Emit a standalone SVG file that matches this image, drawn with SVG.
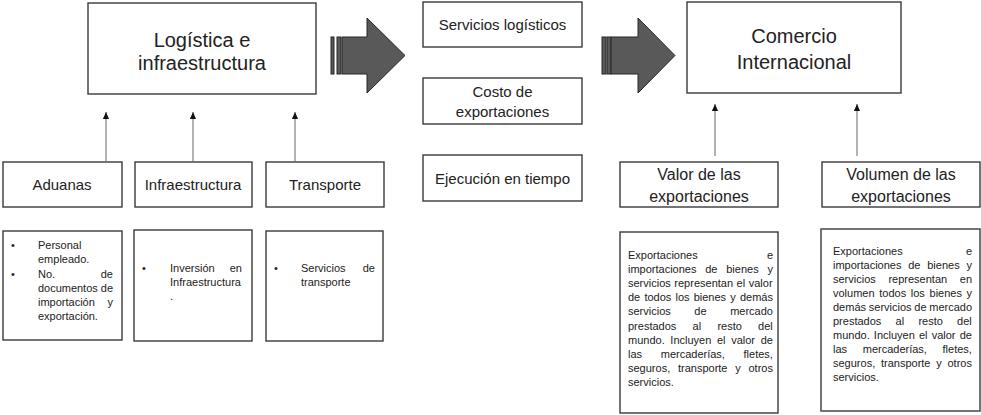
<svg xmlns="http://www.w3.org/2000/svg" width="981" height="415" viewBox="0 0 981 415">
<defs>
<style>
.box{fill:#fff;stroke:#3a3a3a;stroke-width:1.4}
.t{font-family:"Liberation Sans",Arial,sans-serif;fill:#222}
.big{font-size:20px;text-anchor:middle}
.mid{font-size:16px;text-anchor:middle}
.med{font-size:15px;text-anchor:middle}
.sm{font-size:11px}
.end{text-anchor:end}
.conn{stroke:#666;stroke-width:1;fill:none}
.blk{fill:#595959;stroke:#262626;stroke-width:1}
</style>
<marker id="ah" viewBox="0 0 8 8" refX="8" refY="4" markerWidth="7" markerHeight="7" markerUnits="userSpaceOnUse" orient="auto">
<path d="M0,0.5 L8,4 L0,7.5 z" fill="#111"/>
</marker>
</defs>
<rect width="981" height="415" fill="#fff"/>

<g id="logistica">
<rect class="box" x="88" y="3" width="228" height="91"/>
<text class="t big" x="202" y="47">Logística e</text>
<text class="t big" x="202" y="70">infraestructura</text>
</g>

<g id="aduanas">
<rect class="box" x="3" y="162" width="119" height="45"/>
<text class="t med" x="62" y="190">Aduanas</text>
</g>
<g id="infraestructura">
<rect class="box" x="135" y="162" width="117" height="45"/>
<text class="t med" x="193" y="190">Infraestructura</text>
</g>
<g id="transporte">
<rect class="box" x="266" y="162" width="118" height="45"/>
<text class="t med" x="325" y="190">Transporte</text>
</g>

<g id="aduanas-detalle">
<rect class="box" x="3" y="231" width="119" height="109"/>
<text class="t sm" x="11" y="249">•</text>
<text class="t sm" x="38" y="249">Personal</text>
<text class="t sm" x="38" y="263">empleado.</text>
<text class="t sm" x="11" y="278">•</text>
<text class="t sm" x="38" y="278">No.</text>
<text class="t sm end" x="113" y="278">de</text>
<text class="t sm" x="38" y="292" textLength="75" lengthAdjust="spacingAndGlyphs">documentos de</text>
<text class="t sm" x="38" y="306">importación</text>
<text class="t sm end" x="113" y="306">y</text>
<text class="t sm" x="38" y="320">exportación.</text>
</g>

<g id="infraestructura-detalle">
<rect class="box" x="134" y="230" width="118" height="111"/>
<text class="t sm" x="142" y="272">•</text>
<text class="t sm" x="170" y="272">Inversión</text>
<text class="t sm end" x="242" y="272">en</text>
<text class="t sm" x="170" y="286">Infraestructura</text>
<text class="t sm" x="170" y="300">.</text>
</g>

<g id="transporte-detalle">
<rect class="box" x="266" y="231" width="117" height="110"/>
<text class="t sm" x="274" y="272">•</text>
<text class="t sm" x="301" y="272">Servicios</text>
<text class="t sm end" x="375" y="272">de</text>
<text class="t sm" x="301" y="286">transporte</text>
</g>

<g id="servicios-logisticos">
<rect class="box" x="423" y="2" width="159" height="45"/>
<text class="t med" x="502.5" y="30">Servicios logísticos</text>
</g>
<g id="costo-exportaciones">
<rect class="box" x="423" y="78" width="159" height="46"/>
<text class="t med" x="502.5" y="97">Costo de</text>
<text class="t med" x="502.5" y="117">exportaciones</text>
</g>
<g id="ejecucion-tiempo">
<rect class="box" x="423" y="155" width="159" height="46"/>
<text class="t med" x="502.5" y="184">Ejecución en tiempo</text>
</g>

<g id="comercio">
<rect class="box" x="687" y="2" width="214" height="91"/>
<text class="t big" x="794" y="43">Comercio</text>
<text class="t big" x="794" y="69">Internacional</text>
</g>

<g id="valor">
<rect class="box" x="620" y="162" width="158" height="45"/>
<text class="t mid" x="699" y="180">Valor de las</text>
<text class="t mid" x="699" y="202">exportaciones</text>
</g>
<g id="volumen">
<rect class="box" x="822" y="162" width="158" height="45"/>
<text class="t mid" x="901" y="180">Volumen de las</text>
<text class="t mid" x="901" y="202">exportaciones</text>
</g>

<g id="valor-detalle">
<rect class="box" x="620" y="232" width="158" height="181"/>
<text class="t sm" x="628" y="259">Exportaciones</text>
<text class="t sm end" x="773" y="259">e</text>
<text class="t sm" x="628" y="273.1" style="word-spacing:5.7px">importaciones de bienes y</text>
<text class="t sm" x="628" y="287.2" style="word-spacing:0.5px">servicios representan el valor</text>
<text class="t sm" x="628" y="301.3" style="word-spacing:1.1px">de todos los bienes y demás</text>
<text class="t sm" x="628" y="315.4" style="word-spacing:20.5px">servicios de mercado</text>
<text class="t sm" x="628" y="329.5" style="word-spacing:13.2px">prestados al resto del</text>
<text class="t sm" x="628" y="343.6" style="word-spacing:2.6px">mundo. Incluyen el valor de</text>
<text class="t sm" x="628" y="357.7" style="word-spacing:15.6px">las mercaderías, fletes,</text>
<text class="t sm" x="628" y="371.8" style="word-spacing:4.7px">seguros, transporte y otros</text>
<text class="t sm" x="628" y="385.9">servicios.</text>
</g>

<g id="volumen-detalle">
<rect class="box" x="821" y="229" width="159" height="182"/>
<text class="t sm" x="833" y="254.5">Exportaciones</text>
<text class="t sm end" x="972" y="254.5">e</text>
<text class="t sm" x="833" y="268.6" style="word-spacing:3.7px">importaciones de bienes y</text>
<text class="t sm" x="833" y="282.7" style="word-spacing:9.6px">servicios representan en</text>
<text class="t sm" x="833" y="296.8" style="word-spacing:1.6px">volumen todos los bienes y</text>
<text class="t sm" x="833" y="310.9" style="word-spacing:-0.3px">demás servicios de mercado</text>
<text class="t sm" x="833" y="325" style="word-spacing:11.2px">prestados al resto del</text>
<text class="t sm" x="833" y="339.1" style="word-spacing:1.1px">mundo. Incluyen el valor de</text>
<text class="t sm" x="833" y="353.2" style="word-spacing:12.6px">las mercaderías, fletes,</text>
<text class="t sm" x="833" y="367.3" style="word-spacing:2.7px">seguros, transporte y otros</text>
<text class="t sm" x="833" y="381.4">servicios.</text>
</g>

<g id="connectors">
<line class="conn" x1="106" y1="162" x2="106" y2="112" marker-end="url(#ah)"/>
<line class="conn" x1="193" y1="162" x2="193" y2="112" marker-end="url(#ah)"/>
<line class="conn" x1="295" y1="162" x2="295" y2="112" marker-end="url(#ah)"/>
<line class="conn" x1="715" y1="156" x2="715" y2="104" marker-end="url(#ah)"/>
<line class="conn" x1="857" y1="156" x2="857" y2="104" marker-end="url(#ah)"/>
<g id="block-arrow-1">
<rect class="blk" x="331" y="37" width="3" height="37"/>
<rect class="blk" x="337" y="37" width="4" height="37"/>
<polygon class="blk" points="342,37 367,37 367,18 405,55.5 367,93 367,74 342,74"/>
</g>
<g id="block-arrow-2">
<rect class="blk" x="602" y="37" width="4" height="37"/>
<rect class="blk" x="607" y="37" width="4" height="37"/>
<polygon class="blk" points="611,37 638,37 638,18 675,55.5 638,93 638,74 611,74"/>
</g>
</g>
</svg>
